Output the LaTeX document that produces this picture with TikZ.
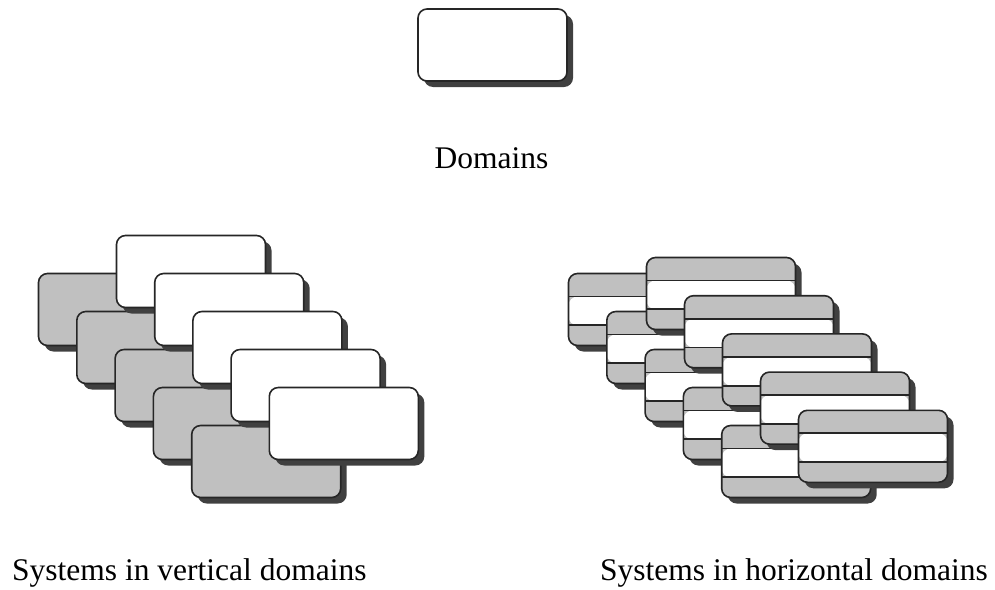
\documentclass[tikz,border=0pt]{standalone}
\usepackage{fontspec}
\setmainfont{Liberation Serif}
\usetikzlibrary{shadows,calc}
\definecolor{boxgray}{HTML}{C0C0C0}
\definecolor{shadowgray}{HTML}{404040}
\tikzset{
  dombox/.style={draw=black!85, line width=1.6pt, rounded corners=9pt,
    minimum width=149pt, minimum height=72pt, inner sep=0pt, fill=white,
    drop shadow={shadow xshift=6pt, shadow yshift=-6pt, opacity=1, fill=shadowgray}},
  graybox/.style={dombox, fill=boxgray},
  stripebox/.style={dombox, fill=boxgray, path picture={
    \fill[white] ($(path picture bounding box.south west)!0.28!(path picture bounding box.north west)$)
      rectangle ($(path picture bounding box.south east)!0.68!(path picture bounding box.north east)$);
    \draw[line width=1.8pt, draw=black!85]
      ($(path picture bounding box.south west)!0.28!(path picture bounding box.north west)$) --
      ($(path picture bounding box.south east)!0.28!(path picture bounding box.north east)$)
      ($(path picture bounding box.south west)!0.68!(path picture bounding box.north west)$) --
      ($(path picture bounding box.south east)!0.68!(path picture bounding box.north east)$);}},
  caption/.style={font=\fontsize{31.5}{38}\selectfont, inner sep=0pt}
}
\begin{document}
\begin{tikzpicture}[x=1pt, y=-1pt]
  \useasboundingbox (0,0) rectangle (995,589);
  % domain
  \node[dombox] (dom) at (492.5,45) {};
  \node[caption, anchor=base] (domlabel) at (491.5,168) {Domains};
  % vertical domains
  \foreach \i in {0,...,4}
    \node[graybox] (v-gray-\i) at (113+38.3*\i, 309.5+38*\i) {};
  \foreach \i in {0,...,4}
    \node[dombox] (v-white-\i) at (191+38.2*\i, 271.5+38*\i) {};
  \node[caption, anchor=base west] (vlabel) at (12,580) {Systems in vertical domains};
  % horizontal domains
  \foreach \i in {0,...,4}
    \node[stripebox] (h-back-\i) at (643+38.3*\i, 309.5+38*\i) {};
  \foreach \i in {0,...,4}
    \node[stripebox] (h-front-\i) at (721+38*\i, 293.5+38.2*\i) {};
  \node[caption, anchor=base west] (hlabel) at (600,580) {Systems in horizontal domains};
\end{tikzpicture}
\end{document}
